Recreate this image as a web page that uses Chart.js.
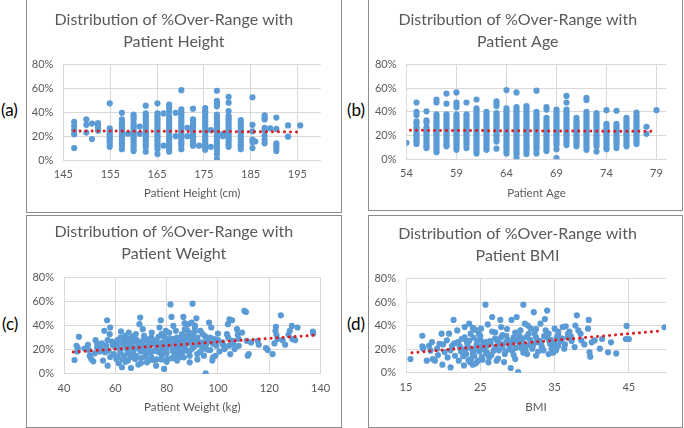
<!DOCTYPE html>
<html lang="en">
<head>
<meta charset="UTF-8">
<title>Distribution of %Over-Range</title>
<script src="https://cdn.jsdelivr.net/npm/chart.js"></script>
<style>
  body { margin: 0; width: 684px; height: 428px; background: #fff; position: relative; overflow: hidden; font-family: Lato, sans-serif; }
  .panel { position: absolute; border: 1px solid #8c8c8c; background: #fff; }
  .panel canvas { display: block; }
  .tag { position: absolute; font-size: 17px; line-height: 17px; color: #000; }
</style>
</head>
<body>
  <div class="tag" style="left:1px; top:101px;">(a)</div>
  <div class="tag" style="left:347px; top:101px;">(b)</div>
  <div class="tag" style="left:2px; top:315px;">(c)</div>
  <div class="tag" style="left:347px; top:315px;">(d)</div>

  <div class="panel" style="left:26px; top:-1px;"><canvas id="heightChart" width="314" height="212"></canvas></div>
  <div class="panel" style="left:368px; top:-1px;"><canvas id="ageChart" width="313" height="210"></canvas></div>
  <div class="panel" style="left:26px; top:215px;"><canvas id="weightChart" width="314" height="211"></canvas></div>
  <div class="panel" style="left:368px; top:215px;"><canvas id="bmiChart" width="313" height="211"></canvas></div>

<script>
// ---- data (% over-range) ----
const pctTicks = [0, 20, 40, 60, 80];

// (a) height: one column of values per measured height
const heightTicks = [145, 155, 165, 175, 185, 195];
const heightX = [147.3, 149.9, 151.1, 152.4, 154.9, 157.5, 158.8, 160.0, 161.3, 162.6, 165.1, 166.4, 167.6, 169.0, 170.2, 171.5, 172.7, 174.0, 175.3, 176.5, 177.8, 179.1, 180.3, 182.9, 185.4, 186.0, 188.0, 189.2, 190.5, 193.0, 195.6];
const heightY = [
  [32, 28.5, 25, 21.5, 10],
  [34, 29.5, 23],
  [30.5, 17.5],
  [31, 29.5, 28, 26, 24.5],
  [47.5, 26.5, 24.5, 22.5, 21, 19, 17.5, 15.5, 13.5, 11],
  [39.5, 34, 32, 30, 28, 26, 24, 22, 20, 18, 16, 14, 12, 9],
  [22],
  [38, 36, 34, 31, 29, 27, 25, 23, 21, 19, 17, 15, 13, 11, 9, 7.5],
  [28, 22],
  [45.5, 39, 37, 35, 33, 31, 29, 27, 25, 23, 21, 19, 17, 15, 13, 11, 7],
  [47.5, 39, 37, 35, 33, 31, 29, 27, 25, 23, 21, 19, 17, 15, 13, 11, 9, 5],
  [39, 12],
  [46.5, 44, 41, 37, 35, 33, 31, 29, 27, 25, 23, 21, 19, 17, 15, 13, 11, 9, 7],
  [39.5, 20],
  [58.5, 42.5, 40, 38, 36, 34, 32, 30, 28, 26, 24, 22, 20, 18, 16, 14, 12, 9],
  [27, 20],
  [43, 34, 32, 30, 28, 26, 24, 22, 20, 18, 16, 14, 12],
  [12],
  [43.5, 41, 39, 36, 34, 32, 30, 28, 26, 24, 22, 20, 18, 16, 14, 12, 10, 8.5],
  [25, 11],
  [58, 49.5, 47, 45, 38, 36, 34, 32, 30, 28, 26, 24, 22, 20, 18, 16, 14, 12, 10, 8, 5, 1],
  [22, 20],
  [53, 48, 41, 37, 35, 33, 31, 29, 27, 25, 23, 21, 19, 17, 15, 13, 11],
  [33.5, 31, 29, 27, 25, 23, 21, 19, 17, 15, 13, 11, 9],
  [52.5, 29.5, 24, 17, 15, 10],
  [15.5],
  [37.5, 35.5, 34, 27, 25, 20.5, 17, 14],
  [26.5],
  [35.5, 26, 14, 12, 10, 7.5],
  [29, 19.5],
  [29]
];
const heightTrendX = [147.3, 195.6];
const heightTrendY = [24.4, 23.5];

// (b) age: one column of values per year
const ageTicks = [54, 59, 64, 69, 74, 79];
const ageX = [54, 55, 56, 57, 58, 59, 60, 61, 62, 63, 64, 65, 66, 67, 68, 69, 70, 71, 72, 73, 74, 75, 76, 77, 78, 79];
const ageY = [
  [14],
  [48, 40, 37.5, 32, 30, 27, 25, 23, 21, 19, 17, 15, 13],
  [40.5, 33, 31, 27, 25, 23, 21, 19, 17, 15, 13, 11, 9.5],
  [50.5, 48, 38, 36, 34, 32, 30, 28, 26, 24, 22, 20, 18, 16, 14, 12, 10, 8, 6],
  [55.5, 47, 38, 36, 34, 32, 30, 28, 26, 24, 22, 20, 18, 16, 14, 12, 11],
  [56.5, 48, 46, 44, 38, 36, 34, 32, 30, 28, 26, 24, 22, 20, 18, 16, 14, 12, 10, 8],
  [48, 38, 36, 34, 32, 30, 28, 26, 24, 22, 20, 18, 16, 14, 12, 9.5],
  [50.5, 43, 41, 39, 37, 35, 33, 31, 29, 27, 25, 23, 21, 19, 17, 15, 13, 11, 9, 7, 5],
  [40, 38, 36, 34, 32, 30, 28, 26, 24, 22, 20, 18, 16, 14, 12, 10, 8],
  [49, 47, 45, 39, 37, 35, 33, 31, 29, 27, 25, 23, 21, 19, 17, 15, 9],
  [58.5, 43, 41, 39, 37, 35, 33, 31, 29, 27, 25, 23, 21, 19, 17, 15, 13, 11, 9, 7, 5],
  [56.5, 44, 42, 40, 38, 36, 34, 32, 30, 28, 26, 24, 22, 20, 18, 16, 14, 12, 10, 8, 6, 4, 1],
  [45, 43, 41, 39, 37, 35, 33, 31, 29, 27, 25, 23, 21, 19, 17, 15, 13, 11, 9, 7, 4.5],
  [58, 40, 38, 36, 34, 32, 30, 28, 26, 24, 22, 20, 18, 16, 14, 12, 10, 8, 5],
  [44, 42, 35, 33, 31, 29, 27, 25, 23, 21, 19, 17, 15, 13, 11, 9, 7],
  [42, 40, 38, 36, 34, 32, 30, 28, 26, 24, 22, 20, 18, 16, 14, 12, 8.5, 1],
  [53.5, 48, 42, 40, 38, 36, 34, 32, 30, 28, 26, 24, 22, 20, 18, 16, 14, 12],
  [35, 33, 31, 29, 27, 25, 23, 21, 19, 17, 15, 13, 11],
  [52, 50, 40, 38, 36, 34, 32, 30, 28, 26, 24, 22, 20, 18, 16, 14, 12, 10, 8],
  [39, 37, 35, 33, 31, 29, 27, 25, 23, 21, 19, 17, 15, 13, 11, 6.5],
  [41.5, 30, 28, 26, 24, 22, 20, 18, 16, 14, 12, 10, 8.5],
  [41, 30, 28, 26, 24, 22, 20, 18, 16, 14, 12, 9.5],
  [35, 33, 31, 29, 27, 25, 23, 21, 19, 17, 15, 13, 11],
  [39.5, 37, 35, 33, 31, 29, 27, 25, 23, 21, 19, 17, 15, 13],
  [27.5, 21.5],
  [41.5]
];
const ageTrendX = [54.4, 78.6];
const ageTrendY = [24.5, 23.6];

// (c) weight (kg, %)
const weightTicks = [40, 60, 80, 100, 120, 140];
const weightPts = [
  [44.1, 11.5], [44.9, 23.3], [45.4, 21.4], [45.8, 30.7], [45.2, 18.6], [49.3, 24.1], [49.7, 19.7], [50, 15], [50.6, 12.3], [51.4, 10.4],
  [52.3, 27.9], [52.9, 21.9], [53.9, 18.6], [54.8, 25.2], [55.2, 11], [55.7, 35.6], [56.8, 44.4], [57, 6.8], [56.5, 23.3], [57.4, 19.2],
  [58, 38.4], [57.8, 32.9], [58.7, 26.8], [59.4, 16.4], [60, 21.9], [60.4, 12.3], [60.9, 27.9], [61.3, 8.8], [61.9, 17.8], [62.2, 35.1],
  [62.6, 5.5], [63, 24.7], [63.5, 15.1], [63.9, 31.5], [64.5, 20.5], [64.9, 11], [65.2, 34.2], [65.8, 26], [66.1, 4.9], [66.5, 17],
  [66.8, 30.7], [67.4, 21.9], [67.7, 12.3], [68.4, 27.9], [69, 7.7], [69.4, 41.1], [69.7, 46.6], [69.9, 18.6], [70.3, 24.7], [70.7, 37],
  [71.2, 31.5], [71.6, 14.2], [72.3, 9.6], [72.5, 21.9], [73.3, 28.8], [73.8, 17.8], [74.2, 34.2], [74.8, 11.5], [75.1, 24.7], [75.9, 6.8],
  [76.1, 20.5], [76.8, 30.7], [77.2, 38.4], [77.7, 44.4], [78.1, 15.1], [78.5, 26], [79, 4.1], [79.4, 21.9], [79.7, 35.6], [80.3, 12.3],
  [80.6, 28.8], [81.5, 57.5], [81.9, 47.1], [82.3, 19.2], [82.6, 39.7], [83.2, 24.7], [83.6, 35.6], [84.1, 11], [84.5, 16.4], [85.2, 30.1],
  [85.8, 22.5], [86.5, 47.1], [86.7, 13.7], [87.1, 37], [87.5, 27.4], [88, 19.2], [88.4, 41.1], [88.8, 32.3], [89, 9.6], [89.7, 42.5],
  [90.1, 58.1], [90.3, 23.3], [91, 38.4], [91.4, 29.6], [91.6, 46], [91.9, 16.4], [92.6, 26], [93.2, 35.6], [93.9, 20.5], [94.5, 15.1],
  [95.2, 0.5], [95.5, 24.7], [96.5, 42.5], [97, 19.7], [97.4, 38.4], [97.8, 11], [98.1, 13.7], [98.7, 28.8], [99.4, 23.3], [100, 33.4],
  [100.6, 18.6], [101.7, 26], [102.6, 20.5], [103.5, 32.9], [103.9, 41.1], [104.3, 23.3], [104.5, 45.2], [104.8, 16.4], [105.5, 44.4], [105.8, 27.4],
  [106.5, 20.5], [107.4, 37], [107.7, 32.3], [108.1, 23.3], [109.4, 34.2], [110.3, 52.1], [110.9, 51.2], [111.2, 27.4], [111.6, 15.1], [112, 16.4],
  [112.9, 26], [115.5, 27.4], [115.9, 24.1], [118.7, 21.4], [119.4, 19.7], [121.3, 16.4], [122, 25.2], [122.4, 35.6], [122.6, 38.9], [122.8, 32.3],
  [123.2, 28.8], [124.5, 48.5], [125.2, 27.9], [126.2, 24.1], [127.5, 32.3], [128, 35.6], [128.8, 39.7], [129, 28.8], [130.1, 27.9], [131, 38.4],
  [137, 35], [137.1, 33.5],
  [62, 20], [63, 28], [64, 23], [65, 17], [66, 24], [67, 27], [68, 15], [69, 21], [70, 26], [71, 19],
  [72, 28], [73, 22], [74, 14], [75, 27], [76, 24], [77, 18], [78, 22], [79, 26], [80, 17], [81, 25],
  [82, 29], [83, 15], [84, 22], [85, 26], [86, 18], [87, 24], [88, 31], [89, 27], [90, 21], [91, 35],
  [92, 30], [93, 18], [94, 26], [95, 31], [96, 20], [86, 33], [88, 36], [89, 15], [90, 28], [84, 30],
  [82, 13], [79, 31], [76, 12], [73, 25], [70, 13], [67, 31], [65, 29], [64, 10], [61, 24], [59, 24],
  [58, 14], [55, 20], [53, 25], [71, 23], [78, 33], [80, 10], [91, 40], [87, 42], [89, 34], [92, 12],
  [61, 14], [62, 30], [63, 12], [64, 27], [65, 21], [66, 14], [67, 19], [68, 33], [69, 25], [70, 9],
  [71, 28], [72, 17], [73, 11], [74, 30], [75, 19], [76, 28], [77, 25], [78, 12], [79, 19], [80, 21],
  [81, 34], [82, 24], [83, 28], [84, 19], [85, 14], [86, 29], [87, 21], [88, 25], [89, 19], [90, 33],
  [91, 23], [92, 27], [93, 24], [94, 33], [95, 22], [96, 27], [97, 30], [98, 25], [99, 15], [100, 28],
  [102, 24], [104, 30], [106, 25], [108, 29], [60, 25], [57, 28], [56, 18], [54, 22], [52, 17], [48, 21]
];
const weightTrendX = [43.6, 137.1];
const weightTrendY = [18.1, 31.9];

// (d) BMI (kg/m2, %)
const bmiTicks = [15, 25, 35, 45];
const bmiPts = [
  [15.6, 11.6], [17.2, 31.4], [17.2, 22.4], [17.3, 20.4], [17.8, 10.2], [18.1, 22.9], [18.3, 18.7], [18.6, 11.6], [18.9, 10.2], [19.2, 20.4],
  [19.5, 24.6], [19.8, 33.1], [19.9, 6.8], [20.2, 17.6], [20.5, 27.5], [20.8, 33.1], [21, 4.5], [21.2, 22.9], [21.4, 44.8], [21.6, 14.4],
  [21.9, 35.9], [22.1, 10.2], [22.2, 22.9], [22.4, 18.1], [22.5, 28.6], [22.8, 6.2], [22.9, 38.8], [23.1, 15.9], [23.2, 25.8], [23.4, 10.8],
  [23.5, 41.6], [23.7, 33.1], [23.8, 20.4], [24, 6.8], [24.1, 29.7], [24.2, 14.4], [24.3, 36.5], [24.6, 22.9], [24.7, 10.2], [24.9, 18.1],
  [25, 31.4], [25.1, 37.4], [25.2, 13.3], [25.4, 24.1], [25.7, 57.8], [25.9, 17.3], [26.1, 8.8], [26.3, 26.9], [26.6, 47.3], [26.8, 18.7],
  [27, 34.2], [27.2, 10.2], [27.5, 25.2], [27.7, 44.8], [27.8, 38.8], [28, 21.8], [28.3, 15.9], [28.5, 31.4], [28.6, 37.1], [28.8, 24.6],
  [29.1, 4], [29.2, 44.8], [29.3, 18.7], [29.5, 28.6], [29.7, 11.6], [29.9, 47.3], [30.1, 0.5], [30.2, 25.2], [30.4, 35.9], [30.6, 20.4],
  [30.8, 57.8], [31, 41.6], [31.2, 30.3], [31.3, 15.9], [31.6, 23.5], [31.8, 37.4], [32, 20.4], [32.2, 51.4], [32.3, 33.1], [32.5, 14.4],
  [32.9, 26.9], [33.1, 41.6], [33.3, 21.8], [33.7, 45.6], [34, 52.8], [34.2, 33.1], [34.2, 15.9], [34.4, 24.6], [34.6, 20.4], [35, 37.4],
  [35.3, 30.3], [35.5, 22.9], [35.9, 26.9], [36.1, 38.8], [36.3, 20.4], [36.5, 39.4], [37.3, 26.9], [37.7, 21.8], [37.8, 40], [38, 48.7],
  [38.2, 35.9], [38.6, 27.5], [39.5, 37.4], [39.6, 44.8], [39.7, 17.3], [39.8, 13.6], [40, 25.8], [40.4, 27.5], [41.1, 20.4], [41.4, 28.6],
  [42.2, 17.3], [42.6, 25.8], [43.3, 16.4], [44.6, 28.6], [44.7, 39.7], [45, 28.6], [49.8, 38.6],
  [23, 20], [23.5, 27], [24, 16], [24.5, 24], [25, 28], [25.5, 20], [26, 23], [26.5, 15], [27, 29], [27.5, 19],
  [28, 32], [28.5, 26], [29, 23], [29.5, 30], [30, 27], [30.5, 29], [31, 22], [31.5, 33], [32, 25], [32.5, 30],
  [33, 27], [33.5, 19], [34, 30], [34.5, 28], [35, 25], [35.5, 32], [36, 29], [22, 26], [21, 19], [20, 24],
  [23.8, 12], [24.4, 8], [25.3, 11], [26.2, 13], [27.4, 12], [28.2, 9], [29.5, 15], [30.8, 17], [32.8, 18], [34.8, 17],
  [33.8, 36], [31.4, 40], [29.7, 34], [27.8, 30], [26.6, 35], [24.8, 33], [22.9, 30], [36.8, 33], [37.2, 31], [38.5, 33],
  [39, 24], [35.2, 19], [30.4, 24], [28.9, 20], [27.1, 22], [25.7, 26],
  [21.5, 25], [22.3, 21], [22.7, 14], [23.3, 23], [23.6, 9], [24.2, 19], [24.6, 27], [25.2, 22], [25.8, 16], [26.4, 25],
  [26.9, 20], [27.3, 27], [27.9, 24], [28.4, 18], [28.7, 28], [29.2, 25], [29.8, 21], [30.3, 31], [30.7, 26], [31.1, 19],
  [31.7, 28], [32.1, 23], [32.6, 26], [33.2, 24], [33.6, 31], [34.3, 27], [34.9, 22], [35.7, 28], [36.4, 24], [37, 35],
  [20.6, 13], [19.3, 15], [18.5, 26], [24, 38], [26, 41], [32.5, 37], [35.5, 35], [36.8, 30]
];
const bmiTrendX = [15.8, 49.5];
const bmiTrendY = [17, 35.6];

// ---- drawing ----
const textGrey = '#595959';
const gridGrey = '#d9d9d9';
const dotBlue = '#5b9bd5';
const trendRed = '#e0191c';
const family = 'Lato, sans-serif';

function columnsToPoints(xs, cols) {
  const pts = [];
  xs.forEach((x, i) => cols[i].forEach(y => pts.push({ x: x, y: y })));
  return pts;
}
function pairsToPoints(pairs) {
  return pairs.map(p => ({ x: p[0], y: p[1] }));
}
function trendToPoints(xs, ys) {
  return xs.map((x, i) => ({ x: x, y: ys[i] }));
}

// box = chart area wanted inside the canvas: left, right, top, bottom, plus title line / axis title centres
function drawPanel(id, titleText, axisTitle, xTicks, xMin, xMax, points, trend, box) {
  const canvas = document.getElementById(id);
  const W = canvas.width, H = canvas.height;
  const titleLine = 22;
  const padTop = box.titleY - titleLine / 2;
  new Chart(canvas, {
    type: 'scatter',
    data: {
      datasets: [
        {
          type: 'line', data: trend, borderColor: trendRed, borderWidth: 3,
          borderDash: [0.01, 6], borderCapStyle: 'round', pointRadius: 0, fill: false, tension: 0
        },
        { data: points, backgroundColor: dotBlue, borderWidth: 0, pointRadius: 3.1 }
      ]
    },
    options: {
      responsive: false,
      animation: false,
      events: [],
      layout: { padding: { left: 0, top: 0, right: W - box.right, bottom: 0 } },
      plugins: {
        legend: { display: false },
        tooltip: { enabled: false },
        title: {
          display: true, text: titleText, color: textGrey,
          font: { family: family, size: 16, weight: 'normal', lineHeight: titleLine / 16 },
          padding: { top: padTop, bottom: box.top - padTop - 2 * titleLine }
        }
      },
      scales: {
        x: {
          type: 'linear', min: xMin, max: xMax,
          afterBuildTicks: s => { s.ticks = xTicks.map(v => ({ value: v })); },
          afterFit: s => { s.height = H - box.bottom; },
          grid: { color: gridGrey, drawTicks: false },
          border: { color: gridGrey },
          ticks: { color: textGrey, font: { family: family, size: 11 }, padding: 8, maxRotation: 0, autoSkip: false },
          title: {
            display: true, text: axisTitle, color: textGrey,
            font: { family: family, size: 11.5 },
            padding: { top: 0, bottom: H - box.axisY - 7 }
          }
        },
        y: {
          type: 'linear', min: 0, max: 80,
          afterBuildTicks: s => { s.ticks = pctTicks.map(v => ({ value: v })); },
          afterFit: s => { s.width = box.left; },
          grid: { color: gridGrey, drawTicks: false },
          border: { color: gridGrey },
          ticks: { color: textGrey, font: { family: family, size: 11 }, padding: 10, callback: v => v + '%' }
        }
      }
    }
  });
}

drawPanel('heightChart', ['Distribution of %Over-Range with', 'Patient Height'], 'Patient Height (cm)',
  heightTicks, 145, 200, columnsToPoints(heightX, heightY), trendToPoints(heightTrendX, heightTrendY),
  { left: 36.4, right: 293.8, top: 64.5, bottom: 160, titleY: 20, axisY: 193.3 });

drawPanel('ageChart', ['Distribution of %Over-Range with', 'Patient Age'], 'Patient Age',
  ageTicks, 54, 80, columnsToPoints(ageX, ageY), trendToPoints(ageTrendX, ageTrendY),
  { left: 37.5, right: 297.5, top: 64.6, bottom: 159.3, titleY: 20, axisY: 192.7 });

drawPanel('weightChart', ['Distribution of %Over-Range with', 'Patient Weight'], 'Patient Weight (kg)',
  weightTicks, 40, 140, pairsToPoints(weightPts), trendToPoints(weightTrendX, weightTrendY),
  { left: 37, right: 293.6, top: 61.2, bottom: 157.9, titleY: 16.3, axisY: 191.3 });

drawPanel('bmiChart', ['Distribution of %Over-Range with', 'Patient BMI'], 'BMI',
  bmiTicks, 15, 50, pairsToPoints(bmiPts), trendToPoints(bmiTrendX, bmiTrendY),
  { left: 37, right: 297, top: 62.5, bottom: 156.7, titleY: 18, axisY: 190.7 });
</script>
</body>
</html>
